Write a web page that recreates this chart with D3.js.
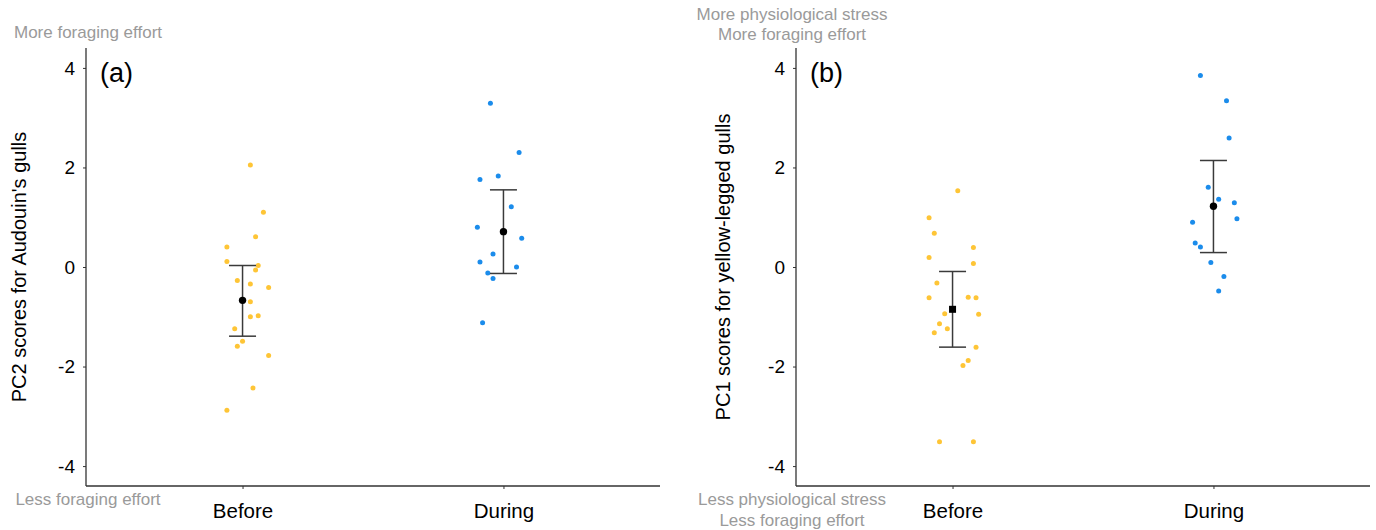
<!DOCTYPE html>
<html>
<head>
<meta charset="utf-8">
<script src="https://cdn.jsdelivr.net/npm/d3@7"></script>
<style>
  body { margin: 0; background: #fff; }
  svg { display: block; font-family: "Liberation Sans", Arial, sans-serif; }
</style>
</head>
<body>
<div id="chart"></div>
<script>
let categories = ["Before", "During"];
let yTicks = [-4, -2, 0, 2, 4];

// panel (a) PC2 scores, Audouin's gulls
let aBefore = [2.05, 1.10, 0.61, 0.40, 0.11, 0.03, -0.06, -0.27, -0.34, -0.41, -0.70, -1.00, -0.98, -1.24, -1.49, -1.59, -1.78, -2.43, -2.88];
let aBeforeJitter = [0.03, 0.08, 0.05, -0.06, -0.06, 0.06, 0.05, -0.02, 0.03, 0.10, 0.03, 0.03, 0.06, -0.03, 0.00, -0.02, 0.10, 0.04, -0.06];
let aDuring = [3.29, 2.30, 1.76, 1.83, 1.21, 0.80, 0.58, 0.26, 0.10, 0.00, -0.12, -0.23, -1.12];
let aDuringJitter = [-0.05, 0.06, -0.09, -0.02, 0.03, -0.10, 0.07, -0.04, -0.09, 0.05, -0.06, -0.04, -0.08];
let aMean = [-0.67, 0.71];
let aLow = [-1.39, -0.13];
let aHigh = [0.03, 1.55];

// panel (b) PC1 scores, yellow-legged gulls
let bBefore = [1.53, 0.99, 0.68, 0.39, 0.19, 0.07, -0.32, -0.62, -0.61, -0.62, -0.94, -0.95, -1.14, -1.24, -1.32, -1.61, -1.88, -1.98, -3.51, -3.51];
let bBeforeJitter = [0.02, -0.09, -0.07, 0.08, -0.09, 0.08, -0.06, -0.09, 0.06, 0.09, -0.03, 0.10, -0.05, -0.02, -0.07, 0.09, 0.06, 0.04, -0.05, 0.08];
let bDuring = [3.85, 3.34, 2.59, 1.60, 1.36, 1.29, 0.90, 0.97, 0.48, 0.40, 0.09, -0.19, -0.48];
let bDuringJitter = [-0.05, 0.05, 0.06, -0.02, 0.02, 0.08, -0.08, 0.09, -0.07, -0.05, -0.01, 0.04, 0.02];
let bMean = [-0.85, 1.22];
let bLow = [-1.61, 0.29];
let bHigh = [-0.09, 2.14];

let colors = { Before: "#fec536", During: "#1b8ceb" };

let width = 1376, height = 530;
let svg = d3.select("#chart").append("svg").attr("width", width).attr("height", height);

let panels = [
  { left: 86, label: "(a)", title: "PC2 scores for Audouin's gulls", titleX: 26,
    before: aBefore, bj: aBeforeJitter, during: aDuring, dj: aDuringJitter,
    mean: aMean, low: aLow, high: aHigh, square: false,
    top: ["More foraging effort"], topY: [38], bottom: ["Less foraging effort"], bottomY: [505], noteX: 88 },
  { left: 796, label: "(b)", title: "PC1 scores for yellow-legged gulls", titleX: 730,
    before: bBefore, bj: bBeforeJitter, during: bDuring, dj: bDuringJitter,
    mean: bMean, low: bLow, high: bHigh, square: true,
    top: ["More physiological stress", "More foraging effort"], topY: [20, 40],
    bottom: ["Less physiological stress", "Less foraging effort"], bottomY: [505, 526], noteX: 792 }
];

let plotTop = 48, plotBottom = 486, plotW = 574;

panels.forEach(p => {
  let g = svg.append("g").attr("transform", `translate(${p.left},0)`);
  let y = d3.scaleLinear().domain([-4.4, 4.4]).range([plotBottom, plotTop]);
  let x = d3.scalePoint().domain(categories).range([0, plotW]).padding(0.6);

  // axes
  let yAxis = g.append("g").call(d3.axisLeft(y).tickValues(yTicks).tickSize(3).tickPadding(8).tickFormat(d => String(d)));
  let xAxis = g.append("g").attr("transform", `translate(0,${plotBottom})`)
    .call(d3.axisBottom(x).tickSize(3).tickPadding(14));
  [yAxis, xAxis].forEach(a => {
    a.select(".domain").attr("stroke", "#333").attr("stroke-width", 1.3);
    a.selectAll(".tick line").attr("stroke", "#333").attr("stroke-width", 1);
    a.selectAll("text").attr("fill", "#000").style("font-family", "Liberation Sans, Arial, sans-serif");
  });
  yAxis.select(".domain").attr("d", `M0,${plotTop}V${plotBottom}`);
  xAxis.select(".domain").attr("d", `M0,0H${plotW}`);
  yAxis.selectAll("text").attr("font-size", 19);
  xAxis.selectAll("text").attr("font-size", 20.5);

  let step = x.step();
  let groups = [
    { cat: "Before", vals: p.before, jit: p.bj },
    { cat: "During", vals: p.during, jit: p.dj }
  ];
  groups.forEach(gr => {
    g.append("g").selectAll("circle")
      .data(gr.vals)
      .enter()
      .append("circle")
      .attr("cx", (d, i) => x(gr.cat) + gr.jit[i] * step)
      .attr("cy", d => y(d))
      .attr("r", 2.5)
      .attr("fill", colors[gr.cat]);
  });

  // error bars + means
  let eb = g.append("g");
  categories.forEach((c, i) => {
    let cx = x(c);
    eb.append("line").attr("x1", cx).attr("x2", cx).attr("y1", y(p.high[i])).attr("y2", y(p.low[i]))
      .attr("stroke", "#3a3a3a").attr("stroke-width", 1.5);
    [p.high[i], p.low[i]].forEach(v => {
      eb.append("line").attr("x1", cx - 13.5).attr("x2", cx + 13.5).attr("y1", y(v)).attr("y2", y(v))
        .attr("stroke", "#3a3a3a").attr("stroke-width", 1.5);
    });
    if (p.square && c === "Before") {
      eb.append("rect").attr("x", cx - 3.5).attr("y", y(p.mean[i]) - 3.5).attr("width", 7).attr("height", 7).attr("fill", "#000");
    } else {
      eb.append("circle").attr("cx", cx).attr("cy", y(p.mean[i])).attr("r", 3.7).attr("fill", "#000");
    }
  });

  g.append("text").attr("x", 14).attr("y", 82).attr("font-size", 27).attr("fill", "#000").text(p.label);

  svg.append("text")
    .attr("transform", `translate(${p.titleX},${(plotTop + plotBottom) / 2}) rotate(-90)`)
    .attr("text-anchor", "middle").attr("font-size", 20).attr("fill", "#000")
    .text(p.title);

  p.top.forEach((t, i) => {
    svg.append("text").attr("x", p.noteX).attr("y", p.topY[i])
      .attr("text-anchor", "middle").attr("font-size", 17).attr("fill", "#9a9a9a").text(t);
  });
  p.bottom.forEach((t, i) => {
    svg.append("text").attr("x", p.noteX).attr("y", p.bottomY[i])
      .attr("text-anchor", "middle").attr("font-size", 17).attr("fill", "#9a9a9a").text(t);
  });
});
</script>
</body>
</html>
